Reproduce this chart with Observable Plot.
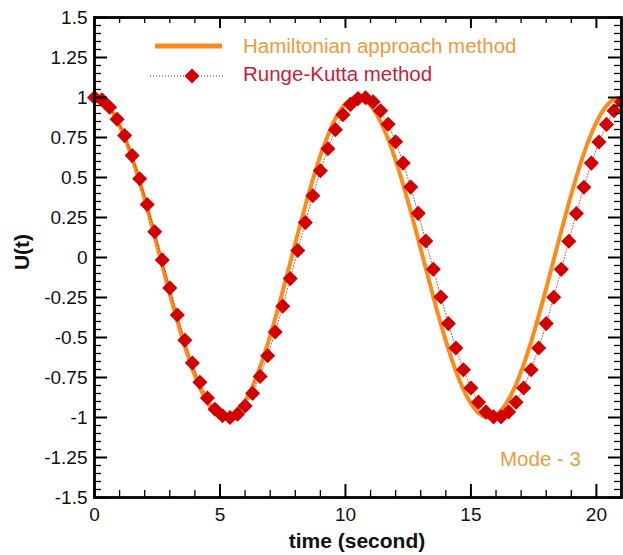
<!DOCTYPE html>
<html>
<head>
<meta charset="utf-8">
<script src="https://cdn.jsdelivr.net/npm/d3@7"></script>
<script src="https://cdn.jsdelivr.net/npm/@observablehq/plot@0.6"></script>
<style>
  html, body { margin: 0; padding: 0; background: #fff; }
  #wrap { position: relative; width: 623px; height: 555px; font-family: "Liberation Sans", Arial, sans-serif; }
  #wrap svg { display: block; }
  #overlay { position: absolute; left: 0; top: 0; pointer-events: none; }
</style>
</head>
<body>
<div id="wrap"></div>
<script>
// ---- data ----
const time = [0,0.3,0.6,0.9,1.2,1.5,1.8,2.1,2.4,2.7,3,3.3,3.6,3.9,4.2,4.5,4.8,5.1,5.4,5.7,
  6,6.3,6.6,6.9,7.2,7.5,7.8,8.1,8.4,8.7,9,9.3,9.6,9.9,10.2,10.5,10.8,11.1,11.4,11.7,
  12,12.3,12.6,12.9,13.2,13.5,13.8,14.1,14.4,14.7,15,15.3,15.6,15.9,16.2,16.5,16.8,17.1,17.4,17.7,
  18,18.3,18.6,18.9,19.2,19.5,19.8,20.1,20.4,20.7,21];

const hamiltonian = [1.000,0.984,0.936,0.858,0.752,0.621,0.471,0.306,0.130,-0.050,
  -0.228,-0.398,-0.556,-0.696,-0.813,-0.904,-0.966,-0.997,-0.995,-0.961,
  -0.896,-0.803,-0.683,-0.541,-0.382,-0.210,-0.032,0.148,0.323,0.487,
  0.636,0.763,0.867,0.942,0.987,1.000,0.980,0.929,0.848,0.740,
  0.607,0.455,0.289,0.112,-0.067,-0.245,-0.415,-0.571,-0.709,-0.824,
  -0.912,-0.971,-0.998,-0.993,-0.956,-0.888,-0.792,-0.670,-0.526,-0.365,
  -0.193,-0.014,0.166,0.340,0.503,0.649,0.775,0.875,0.948,0.990,0.999];

const rungeKutta = [1.000,0.985,0.939,0.864,0.762,0.637,0.492,0.331,0.161,-0.015,
  -0.190,-0.359,-0.517,-0.659,-0.780,-0.878,-0.948,-0.989,-1.000,-0.979,
  -0.928,-0.849,-0.743,-0.614,-0.466,-0.304,-0.132,0.044,0.218,0.386,
  0.542,0.680,0.798,0.892,0.957,0.993,0.998,0.973,0.917,0.833,
  0.723,0.590,0.440,0.276,0.103,-0.073,-0.247,-0.413,-0.566,-0.702,
  -0.816,-0.904,-0.965,-0.996,-0.996,-0.965,-0.905,-0.816,-0.702,-0.566,
  -0.413,-0.248,-0.074,0.102,0.275,0.439,0.590,0.722,0.832,0.917,0.972];

const xTicks = [0,5,10,15,20];
const xMinor = [1,2,3,4,6,7,8,9,11,12,13,14,16,17,18,19];
const yTicks = [-1.5,-1.25,-1,-0.75,-0.5,-0.25,0,0.25,0.5,0.75,1,1.25,1.5];
const yMinor = [-1.45,-1.4,-1.35,-1.3,-1.2,-1.15,-1.1,-1.05,-0.95,-0.9,-0.85,-0.8,
  -0.7,-0.65,-0.6,-0.55,-0.45,-0.4,-0.35,-0.3,-0.2,-0.15,-0.1,-0.05,
  0.05,0.1,0.15,0.2,0.3,0.35,0.4,0.45,0.55,0.6,0.65,0.7,
  0.8,0.85,0.9,0.95,1.05,1.1,1.15,1.2,1.3,1.35,1.4,1.45];

const seriesNames = ["Hamiltonian approach method", "Runge-Kutta method"];
const xLabel = "time (second)";
const yLabel = "U(t)";
const annotation = "Mode - 3";

// ---- layout ----
const W = 623, H = 555;
const mL = 94, mR = 2, mT = 17, mB = 58;
const pw = W - mL - mR, ph = H - mT - mB;
const majLen = 13, minLen = 7;

const orange = "#FF8A1A";
const red = "#D20000";

const data = time.map((t, i) => ({t, h: hamiltonian[i], rk: rungeKutta[i]}));

const fmt = d => String(d);

const chart = Plot.plot({
  width: W, height: H,
  marginLeft: mL, marginRight: mR, marginTop: mT, marginBottom: mB,
  style: {fontFamily: "Liberation Sans, Arial, sans-serif", fontSize: "19px", color: "#111", background: "#fff", overflow: "visible"},
  x: {domain: [0, 21]},
  y: {domain: [-1.5, 1.5]},
  marks: [
    Plot.line(data, {x: "t", y: "h", stroke: orange, strokeWidth: 4, curve: "catmull-rom"}),
    Plot.line(data, {x: "t", y: "rk", stroke: red, strokeWidth: 0.9, strokeDasharray: "1,2", strokeOpacity: 0.8}),
    Plot.dot(data, {x: "t", y: "rk", symbol: "diamond2", r: 6.8, fill: red, stroke: "none"}),
    // inward ticks: bottom / top
    Plot.ruleX(xTicks, {x: d => d, insetTop: ph - majLen, stroke: "#000", strokeWidth: 2}),
    Plot.ruleX(xMinor, {x: d => d, insetTop: ph - minLen, stroke: "#000", strokeWidth: 1.3}),
    Plot.ruleX(xTicks, {x: d => d, insetBottom: ph - majLen + 2, stroke: "#000", strokeWidth: 2}),
    Plot.ruleX(xMinor, {x: d => d, insetBottom: ph - minLen + 1, stroke: "#000", strokeWidth: 1.3}),
    // inward ticks: left / right
    Plot.ruleY(yTicks, {y: d => d, insetRight: pw - majLen, stroke: "#000", strokeWidth: 2}),
    Plot.ruleY(yMinor, {y: d => d, insetRight: pw - minLen, stroke: "#000", strokeWidth: 1.3}),
    Plot.ruleY(yTicks, {y: d => d, insetLeft: pw - majLen, stroke: "#000", strokeWidth: 2}),
    Plot.ruleY(yMinor, {y: d => d, insetLeft: pw - minLen, stroke: "#000", strokeWidth: 1.3}),
    Plot.frame({stroke: "#000", strokeWidth: 2.8}),
    Plot.axisX(xTicks, {tickSize: 0, tickPadding: 10, tickFormat: fmt, label: null, fontSize: 19}),
    Plot.axisY(yTicks, {tickSize: 0, tickPadding: 7, tickFormat: fmt, label: null, fontSize: 19})
  ]
});

const wrap = document.getElementById("wrap");
wrap.appendChild(chart);

// ---- overlay: legend, axis titles, annotation ----
const ns = "http://www.w3.org/2000/svg";
const ov = document.createElementNS(ns, "svg");
ov.setAttribute("id", "overlay");
ov.setAttribute("width", W);
ov.setAttribute("height", H);
ov.setAttribute("font-family", "Liberation Sans, Arial, sans-serif");
function el(tag, attrs, text) {
  const e = document.createElementNS(ns, tag);
  for (const k in attrs) e.setAttribute(k, attrs[k]);
  if (text != null) e.textContent = text;
  ov.appendChild(e);
  return e;
}
// legend
el("line", {x1: 155, x2: 222, y1: 46, y2: 46, stroke: orange, "stroke-width": 5});
el("text", {x: 243, y: 53, fill: "#EE9A3C", "font-size": 20.5}, seriesNames[0]);
el("line", {x1: 150, x2: 224, y1: 76, y2: 76, stroke: red, "stroke-width": 0.9, "stroke-dasharray": "1,2"});
el("path", {d: "M192,68.5 L199.5,76 L192,83.5 L184.5,76 Z", fill: red});
el("text", {x: 243, y: 81, fill: "#C81E3A", "font-size": 20.5}, seriesNames[1]);
// annotation
el("text", {x: 500, y: 466, fill: "#EE9A3C", "font-size": 20.5}, annotation);
// axis titles
el("text", {x: 357, y: 548, "text-anchor": "middle", "font-weight": "bold", "font-size": 21, fill: "#111"}, xLabel);
el("text", {x: 0, y: 0, "text-anchor": "middle", "font-weight": "bold", "font-size": 21, fill: "#111",
  transform: "translate(29,252) rotate(-90)"}, yLabel);
wrap.appendChild(ov);
</script>
</body>
</html>
